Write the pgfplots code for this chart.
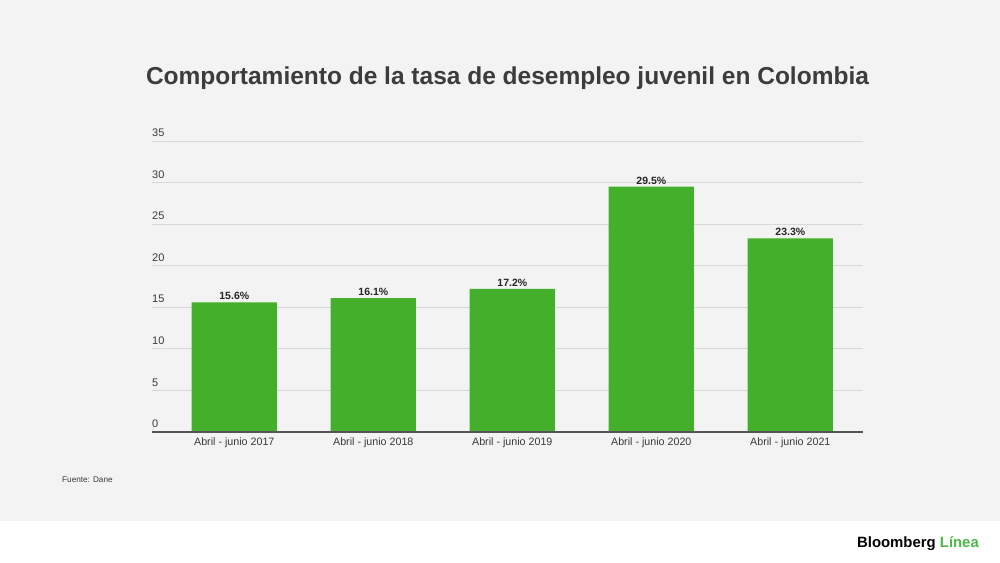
\documentclass[border=0pt]{standalone}
\usepackage{pgfplots}
\pgfplotsset{compat=1.18}
\usepackage{fontspec}
\setmainfont{Liberation Sans}
\definecolor{bg}{HTML}{F3F3F3}
\definecolor{bargreen}{HTML}{43AF2B}
\definecolor{logogreen}{HTML}{4DB847}
\definecolor{titlegray}{HTML}{3C3C3C}
\definecolor{txtgray}{HTML}{3A3A3A}
\definecolor{gridgray}{HTML}{D8D8D8}
\definecolor{axisgray}{HTML}{555555}
\begin{document}
\begin{tikzpicture}[x=1pt,y=1pt]
\useasboundingbox (0,0) rectangle (1000,562);
\fill[white] (0,0) rectangle (1000,562);
\fill[bg] (0,41) rectangle (1000,562);
\node[anchor=base,text=titlegray,inner sep=0pt] at (507.5,477)
  {\fontsize{24.5}{28}\selectfont\bfseries Comportamiento de la tasa de desempleo juvenil en Colombia};
\begin{axis}[
  at={(152pt,130pt)}, anchor=south west,
  scale only axis, width=711pt, height=291pt,
  xmin=-0.592, xmax=4.523, ymin=0, ymax=35,
  ytick={0,5,...,35},
  xtick=data,
  xticklabels={Abril - junio 2017,Abril - junio 2018,Abril - junio 2019,Abril - junio 2020,Abril - junio 2021},
  /pgf/number format/assume math mode=true,
  axis line style={draw=none},
  ymajorgrids, major grid style={gridgray, line width=0.9pt},
  major tick length=0pt,
  tick style={draw=none},
  yticklabel style={anchor=south west, inner sep=0pt, xshift=0pt, yshift=4pt, text=txtgray, font=\fontsize{11}{12}\selectfont},
  xticklabel style={text=txtgray, font=\fontsize{10.7}{13}\selectfont, yshift=-2pt},
  ybar, bar width=85.3pt,
  nodes near coords={\pgfmathprintnumber[fixed,precision=1,fixed zerofill]{\pgfplotspointmeta}\%},
  nodes near coords style={text=black!85, font=\fontsize{10.5}{12}\selectfont\bfseries, inner sep=2pt, /pgf/number format/assume math mode=true},
  clip=false,
]
\addplot[fill=bargreen, draw=none] coordinates {(0,15.6) (1,16.1) (2,17.2) (3,29.5) (4,23.3)};
\draw[axisgray, line width=2pt] (axis cs:-0.592,0) -- (axis cs:4.523,0);
\end{axis}
\node[anchor=base west,text=txtgray,inner sep=0pt] at (62,80) {\fontsize{8.2}{10}\selectfont Fuente: Dane};
\node[anchor=base east,inner sep=0pt] at (979,15) {\fontsize{14.9}{18}\selectfont\bfseries Bloomberg \textcolor{logogreen}{Línea}};
\end{tikzpicture}
\end{document}
